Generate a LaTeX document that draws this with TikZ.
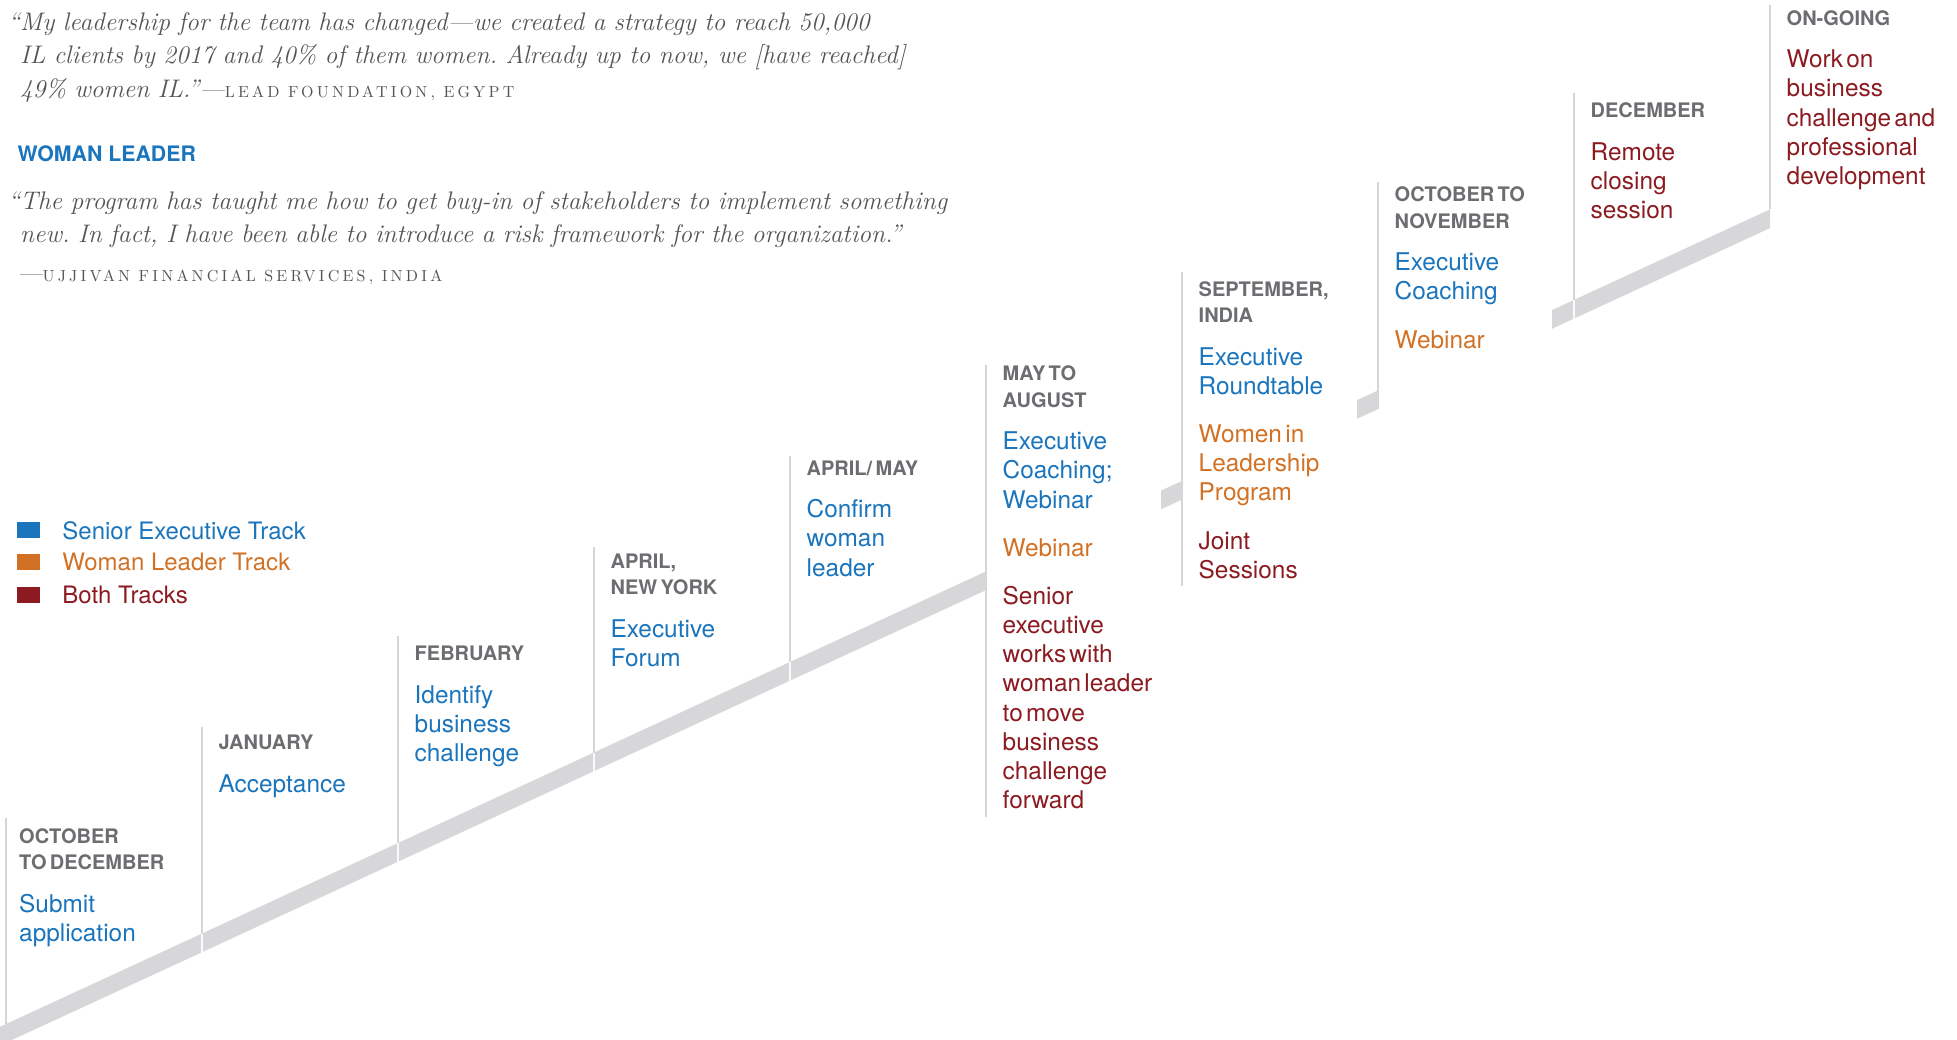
\documentclass[tikz,border=0pt]{standalone}
\usepackage{fontspec}
\usetikzlibrary{positioning}
\newfontfamily\heros{TeX Gyre Heros}
\newfontfamily\capsfont[LetterSpace=20]{lmroman10-regular.otf}
\definecolor{SeniorClr}{RGB}{26,117,188}
\definecolor{WomanClr}{RGB}{210,113,36}
\definecolor{BothClr}{RGB}{139,27,32}
\definecolor{LabelClr}{RGB}{108,109,112}
\definecolor{QuoteClr}{RGB}{84,84,86}
\definecolor{BandClr}{RGB}{215,215,217}
\definecolor{RuleClr}{RGB}{214,214,214}

\newcommand{\hd}{\leavevmode\heros\bfseries\fontsize{20}{26.3}\selectfont\color{LabelClr}}
\newcommand{\track}[2][19.2pt]{\par\vspace{#1}\leavevmode\heros\mdseries\fontsize{24.4}{29.1}\selectfont\color{#2}}
\newcommand{\src}[1]{{\capsfont\fontsize{16}{18}\selectfont #1}}

\tikzset{declare function={bandtop(\x)=1024-0.4618*(\x-6);}}

\begin{document}
\begin{tikzpicture}[x=1pt,y=-1pt,
  milestone/.style={anchor=base west,inner sep=0pt,text width=180pt,align=left},
  quotetext/.style={anchor=base west,inner sep=0pt,text width=1000pt,align=left,text=QuoteClr,
    font=\itshape\frenchspacing\fontsize{25.4}{33.4}\selectfont},
  keybox/.style={inner sep=0pt,minimum width=23pt,minimum height=16pt},
  keytext/.style={inner sep=0pt,font=\heros\fontsize{24}{29.1}\selectfont}]

\useasboundingbox (0,0) rectangle (1957,1039);
\clip (0,0) rectangle (1957,1039);

\foreach \a/\b in {0/201.2,202.8/397.2,398.8/593.2,594.8/789.2,790.8/985.2,1161/1181.2,1357/1377.2,1552/1573.2,1574.8/1770}
  \fill[BandClr] (\a,{bandtop(\a)}) -- (\b,{bandtop(\b)}) -- (\b,{bandtop(\b)+18.7}) -- (\a,{bandtop(\a)+18.7}) -- cycle;

\foreach \x/\t/\b in {6/818/1024,202/727/933.5,398/636/843,594/547/752.5,790/456/662,986/365/817,1182/272/586,1378/182/409,1574/93/299.9,1770/5/209.4}
  \draw[RuleClr,line width=1.3pt] (\x,\t) -- (\x,\b);

\node[quotetext] (lead) at (20,30.5) {\leavevmode\llap{“}My leadership for the team has changed—we created a strategy to reach 50,000\\IL clients by 2017 and 40\% of them women. Already up to now, we [have reached]\\49\% women IL.”—\src{LEAD FOUNDATION, EGYPT}\par};
\node[anchor=base west,inner sep=0pt,text=SeniorClr,font=\heros\bfseries\fontsize{21.3}{24}\selectfont] (heading) at (17.5,161) {WOMAN LEADER};
\node[quotetext] (program) at (20,209.3) {\leavevmode\llap{“}The program has taught me how to get buy-in of stakeholders to implement something\\new. In fact, I have been able to introduce a risk framework for the organization.”\par};
\node[quotetext] (ujjivan) at (17,281.7) {—\src{UJJIVAN FINANCIAL SERVICES, INDIA}\par};

\node[keybox,fill=SeniorClr] (kSenior) at (28.5,530.3) {};
\node[keybox,fill=WomanClr,below=15.7pt of kSenior] (kWoman) {};
\node[keybox,fill=BothClr,below=15.7pt of kWoman] (kBoth) {};
\node[keytext,text=SeniorClr,right=22pt of kSenior] (tSenior) {Senior Executive Track};
\node[keytext,text=WomanClr,right=22pt of kWoman] (tWoman) {Woman Leader Track};
\node[keytext,text=BothClr,right=22pt of kBoth] (tBoth) {Both Tracks};

\node[milestone] (octdec) at (19,843.3) {\hd OCTOBER\\TO DECEMBER\track[13.7pt]{SeniorClr}Submit\\application\par};
\node[milestone] (jan) at (218.5,749.3) {\hd JANUARY\track[13.7pt]{SeniorClr}Acceptance\par};
\node[milestone] (feb) at (414.5,660.7) {\hd FEBRUARY\track[13.7pt]{SeniorClr}Identify\\business\\challenge\par};
\node[milestone] (aprny) at (610.5,568.3) {\hd APRIL,\\NEW YORK\track[13.7pt]{SeniorClr}Executive\\Forum\par};
\node[milestone] (aprmay) at (806.5,475) {\hd APRIL/ MAY\track[13.7pt]{SeniorClr}Confirm\\woman\\leader\par};
\node[milestone] (mayaug) at (1002.5,380.7) {\hd MAY TO\\AUGUST\track[13.7pt]{SeniorClr}Executive\\Coaching;\\Webinar\track{WomanClr}Webinar\track{BothClr}Senior\\executive\\works with\\woman leader\\to move\\business\\challenge\\forward\par};
\node[milestone] (sept) at (1198.5,296) {\hd SEPTEMBER,\\INDIA\track[13.7pt]{SeniorClr}Executive\\Roundtable\track{WomanClr}Women in\\Leadership\\Program\track{BothClr}Joint\\Sessions\par};
\node[milestone] (octnov) at (1394.5,201.7) {\hd OCTOBER TO\\NOVEMBER\track[13.7pt]{SeniorClr}Executive\\Coaching\track{WomanClr}Webinar\par};
\node[milestone] (dec) at (1590.5,117.3) {\hd DECEMBER\track[13.7pt]{BothClr}Remote\\closing\\session\par};
\node[milestone] (ongoing) at (1786.5,25) {\hd ON-GOING\track[13.7pt]{BothClr}Work on\\business\\challenge and\\professional\\development\par};

\end{tikzpicture}
\end{document}
